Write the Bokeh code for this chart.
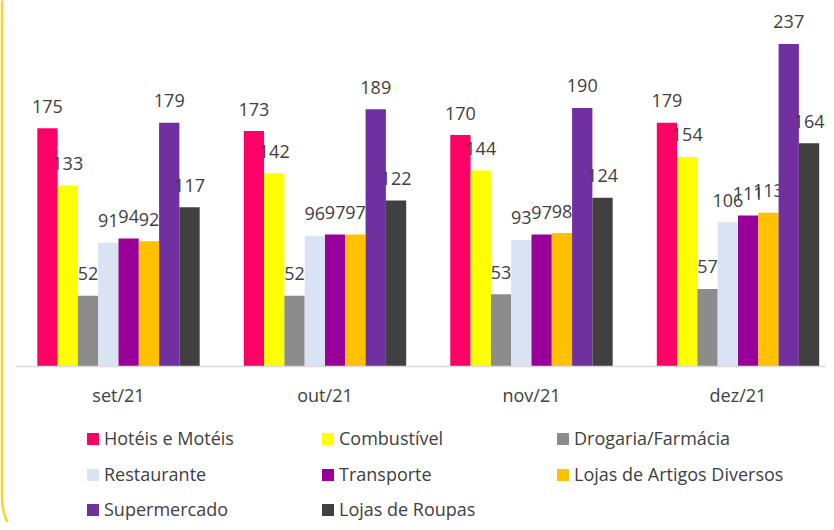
import numpy as np
from bokeh.plotting import figure
from bokeh.models import ColumnDataSource, Range1d, FixedTicker, Legend, LegendItem, PolyAnnotation
from bokeh.transform import dodge
from bokeh.core.properties import value
from bokeh.embed import file_html
from bokeh.resources import INLINE

months = ["set/21", "out/21", "nov/21", "dez/21"]
series = ["Hotéis e Motéis", "Combustível", "Drogaria/Farmácia", "Restaurante",
          "Transporte", "Lojas de Artigos Diversos", "Supermercado", "Lojas de Roupas"]
hoteis = [175, 173, 170, 179]
combustivel = [133, 142, 144, 154]
drogaria = [52, 52, 53, 57]
restaurante = [91, 96, 93, 106]
transporte = [94, 97, 97, 111]
lojas_diversos = [92, 97, 98, 113]
supermercado = [179, 189, 190, 237]
lojas_roupas = [117, 122, 124, 164]
colors = ["#FF0066", "#FFFF00", "#8C8C8C", "#DAE3F3", "#990099", "#FFC000", "#7030A0", "#404040"]

all_values = [hoteis, combustivel, drogaria, restaurante, transporte, lojas_diversos, supermercado, lojas_roupas]
month_idx = list(range(len(months)))

FONT = "Open Sans"
TXT = "#404040"

p = figure(width=826, height=522, output_backend="svg", toolbar_location=None,
           x_range=Range1d(-0.5714, 3.4286), y_range=Range1d(-114.6, 268.9),
           y_axis_location=None, min_border_left=0, min_border_right=0,
           min_border_top=0, min_border_bottom=0, outline_line_color=None)
p.xgrid.visible = False
p.ygrid.visible = False

# decorative rounded frame edge on the left (band shape in canvas pixels)
rad, yc, lw = 66.0, 495.0, 2.5
t = np.linspace(0, 0.8, 25)
outer_x = [0.0] + list(rad - rad * np.cos(t))
outer_y = [-10.0] + list(yc + rad * np.sin(t))
inner_x = list((rad - (rad - lw) * np.cos(t))[::-1]) + [lw]
inner_y = list((yc + (rad - lw) * np.sin(t))[::-1]) + [-10.0]
frame_edge = PolyAnnotation(xs=outer_x + inner_x, ys=outer_y + inner_y,
                            xs_units="canvas", ys_units="canvas",
                            fill_color="#FFD42A", fill_alpha=1.0, line_color=None,
                            level="underlay")
p.add_layout(frame_edge)

bw = 0.0983
renderers = []
n = len(series)
for i, (name, vals, col) in enumerate(zip(series, all_values, colors)):
    src = ColumnDataSource(dict(x=month_idx, v=vals, label=[str(v) for v in vals]))
    off = (i - (n - 1) / 2) * bw
    r = p.vbar(x=dodge("x", off), top="v", bottom=0, width=bw, source=src,
               fill_color=col, line_color=None)
    renderers.append(r)
    p.text(x=dodge("x", off), y="v", text="label", source=src,
           text_align="center", text_baseline="middle", y_offset=-22,
           text_font=value(FONT), text_font_size="18px", text_color=TXT)

ax = p.xaxis[0]
ax.fixed_location = 0
ax.bounds = (-0.4988, 3.4286)
ax.ticker = FixedTicker(ticks=month_idx)
ax.major_label_overrides = {i: m for i, m in zip(month_idx, months)}
ax.major_tick_line_color = None
ax.minor_tick_line_color = None
ax.axis_line_color = "#D9D9D9"
ax.axis_line_width = 1.5
ax.major_label_standoff = 10
ax.major_label_text_font = FONT
ax.major_label_text_font_size = "18px"
ax.major_label_text_color = TXT

rows = [(0, 3, 71.5), (3, 6, 35.5), (6, 8, 0.5)]
for a, b, vy in rows:
    items = [LegendItem(label=series[k], renderers=[renderers[k]]) for k in range(a, b)]
    leg = Legend(items=items, orientation="horizontal", location=(85, vy),
                 glyph_width=15, glyph_height=15, label_standoff=4, label_width=216,
                 label_height=25, spacing=0, padding=0, margin=0,
                 border_line_color=None, background_fill_alpha=0,
                 label_text_font=FONT, label_text_font_size="18px", label_text_color=TXT)
    p.add_layout(leg)

open("out.html", "w").write(file_html(p, INLINE))
